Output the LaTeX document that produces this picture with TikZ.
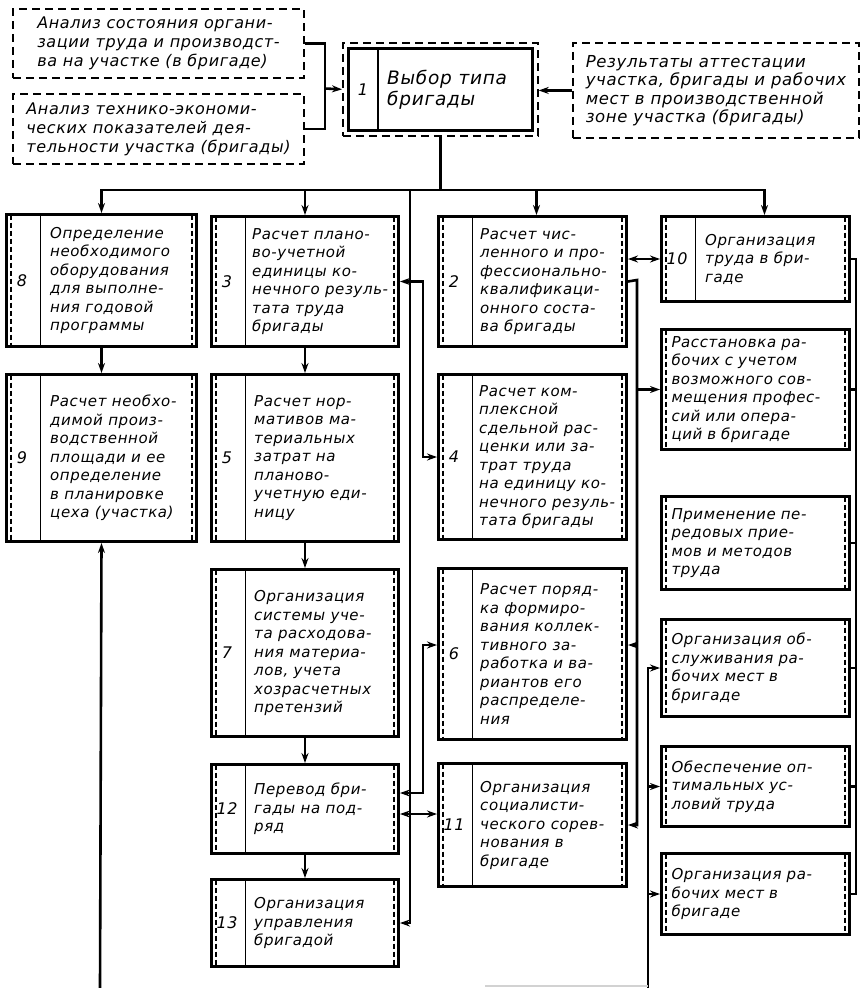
\documentclass[tikz,border=0pt]{standalone}
\usepackage{fontspec}
\setmainfont{DejaVu Sans}[ItalicFont={DejaVu Sans Oblique}, LetterSpace=4.0]
\usetikzlibrary{arrows.meta}

\begin{document}
\begin{tikzpicture}[
    x=1pt, y=-1pt,
    inbox/.style={draw, line width=1.9pt, dash pattern=on 8pt off 5pt, anchor=north west, align=left, inner sep=0pt, font=\itshape\fontsize{16}{19}\selectfont},
    choicebox/.style={draw, line width=1.7pt, dash pattern=on 8pt off 5pt, anchor=north west, inner sep=0pt},
    taskbox/.style={draw, line width=3pt, anchor=north west, inner sep=0pt, align=left, text width=168, font=\itshape\fontsize{15}{18.5}\selectfont,
        path picture={\draw[line width=1.1pt, dash pattern=on 5pt off 3pt]
            ([xshift=4.5pt]path picture bounding box.north west) -- ([xshift=4.5pt]path picture bounding box.south west)
            ([xshift=-4.5pt]path picture bounding box.north east) -- ([xshift=-4.5pt]path picture bounding box.south east);}},
    numbox/.style={taskbox,
        path picture={\draw[line width=1.1pt, dash pattern=on 5pt off 3pt]
            ([xshift=4.5pt]path picture bounding box.north west) -- ([xshift=4.5pt]path picture bounding box.south west)
            ([xshift=-4.5pt]path picture bounding box.north east) -- ([xshift=-4.5pt]path picture bounding box.south east);
            \draw[line width=1.9pt] ([xshift=34pt]path picture bounding box.north west) -- ([xshift=34pt]path picture bounding box.south west);}},
    boxnum/.style={inner sep=0pt, font=\itshape\fontsize{16}{18}\selectfont},
    boxtext/.style={anchor=west, align=left, inner sep=0pt, font=\itshape\fontsize{15}{18.5}\selectfont},
    link/.style={line width=2.6pt},
    arr/.style={link, -{Stealth[length=10pt, width=7pt]}},
    dbl/.style={link, {Stealth[length=10pt, width=7pt]}-{Stealth[length=10pt, width=7pt]}}
]
    \useasboundingbox[fill=white] (0,0) rectangle (861,988);

    % Inputs
    \node[inbox, minimum width=291, minimum height=69] (in1) at (12,8) {Анализ состояния органи-\\зации труда и производст-\\ва на участке (в бригаде)};
    \node[inbox, minimum width=291, minimum height=70] (in2) at (12,93) {Анализ технико-экономи-\\ческих показателей дея-\\тельности участка (бригады)};
    \node[inbox, minimum width=286, minimum height=95, font=\itshape\fontsize{16.5}{18.5}\selectfont] (in3) at (572,42) {Результаты аттестации\\участка, бригады и рабочих\\мест в производственной\\зоне участка (бригады)};

    % Choice of brigade type
    \node[choicebox, minimum width=195, minimum height=93] (b1) at (342,42) {};
    \draw[line width=3pt] ([shift={(6,6)}]b1.north west) rectangle ([shift={(-6,-6)}]b1.south east);
    \draw[line width=1.9pt] ([shift={(36,6)}]b1.north west) -- ([shift={(36,-6)}]b1.south west);
    \node[boxnum] at ([xshift=21]b1.west) {1};
    \node[boxtext, font=\itshape\fontsize{18.5}{21}\selectfont] at ([xshift=45]b1.west) {Выбор типа\\бригады};

    % Column 1
    \node[numbox, minimum width=190, minimum height=132] (b8) at (5,213) {};
    \node[boxnum] at ([xshift=17]b8.west) {8};
    \node[boxtext] at ([xshift=45]b8.west) {Определение\\необходимого\\оборудования\\для выполне-\\ния годовой\\программы};

    \node[numbox, minimum width=190, minimum height=167] (b9) at (5,373) {};
    \node[boxnum] at ([xshift=17]b9.west) {9};
    \node[boxtext] at ([xshift=45]b9.west) {Расчет необхо-\\димой произ-\\водственной\\площади и ее\\определение\\в планировке\\цеха (участка)};

    % Column 2
    \node[numbox, minimum width=187, minimum height=130] (b3) at (210,215) {};
    \node[boxnum] at ([xshift=17]b3.west) {3};
    \node[boxtext] at ([xshift=42]b3.west) {Расчет плано-\\во-учетной\\единицы ко-\\нечного резуль-\\тата труда\\бригады};

    \node[numbox, minimum width=187, minimum height=167] (b5) at (210,373) {};
    \node[boxnum] at ([xshift=17]b5.west) {5};
    \node[boxtext] at ([xshift=44]b5.west) {Расчет нор-\\мативов ма-\\териальных\\затрат на\\планово-\\учетную еди-\\ницу};

    \node[numbox, minimum width=187, minimum height=167] (b7) at (210,568) {};
    \node[boxnum] at ([xshift=17]b7.west) {7};
    \node[boxtext] at ([xshift=44]b7.west) {Организация\\системы уче-\\та расходова-\\ния материа-\\лов, учета\\хозрасчетных\\претензий};

    \node[numbox, minimum width=187, minimum height=89] (b12) at (210,763) {};
    \node[boxnum] at ([xshift=17]b12.west) {12};
    \node[boxtext] at ([xshift=44]b12.west) {Перевод бри-\\гады на под-\\ряд};

    \node[numbox, minimum width=187, minimum height=87] (b13) at (210,878) {};
    \node[boxnum] at ([xshift=17]b13.west) {13};
    \node[boxtext] at ([xshift=44]b13.west) {Организация\\управления\\бригадой};

    % Column 3
    \node[numbox, minimum width=188, minimum height=130] (b2) at (437,215) {};
    \node[boxnum] at ([xshift=17]b2.west) {2};
    \node[boxtext] at ([xshift=43]b2.west) {Расчет чис-\\ленного и про-\\фессионально-\\квалификаци-\\онного соста-\\ва бригады};

    \node[numbox, minimum width=188, minimum height=165] (b4) at (437,373) {};
    \node[boxnum] at ([xshift=17]b4.west) {4};
    \node[boxtext] at ([xshift=42]b4.west) {Расчет ком-\\плексной\\сдельной рас-\\ценки или за-\\трат труда\\на единицу ко-\\нечного резуль-\\тата бригады};

    \node[numbox, minimum width=188, minimum height=171] (b6) at (437,567) {};
    \node[boxnum] at ([xshift=17]b6.west) {6};
    \node[boxtext] at ([xshift=43]b6.west) {Расчет поряд-\\ка формиро-\\вания коллек-\\тивного за-\\работка и ва-\\риантов его\\распределе-\\ния};

    \node[numbox, minimum width=188, minimum height=123] (b11) at (437,762) {};
    \node[boxnum] at ([xshift=17]b11.west) {11};
    \node[boxtext] at ([xshift=43]b11.west) {Организация\\социалисти-\\ческого сорев-\\нования в\\бригаде};

    % Column 4
    \node[numbox, minimum width=188, minimum height=85] (b10) at (660,215) {};
    \node[boxnum] at ([xshift=17]b10.west) {10};
    \node[boxtext] at ([xshift=45]b10.west) {Организация\\труда в бри-\\гаде};

    \node[taskbox, minimum width=188, minimum height=120] (r1) at (660,328) {Расстановка ра-\\бочих с учетом\\возможного сов-\\мещения профес-\\сий или опера-\\ций в бригаде};
    \node[taskbox, minimum width=188, minimum height=93] (r2) at (660,495) {Применение пе-\\редовых прие-\\мов и методов\\труда};
    \node[taskbox, minimum width=188, minimum height=97] (r3) at (660,618) {Организация об-\\служивания ра-\\бочих мест в\\бригаде};
    \node[taskbox, minimum width=188, minimum height=80] (r4) at (660,745) {Обеспечение оп-\\тимальных ус-\\ловий труда};
    \node[taskbox, minimum width=188, minimum height=81] (r5) at (660,852) {Организация ра-\\бочих мест в\\бригаде};

    % Inputs to box 1
    \coordinate (j1) at (325,88.5);
    \draw[link] (in1.east) -| (j1);
    \draw[link] (in2.east) -| (j1);
    \draw[arr] (j1) -- (b1.west);
    \draw[arr] (in3.west) -- (in3.west -| b1.east);

    % Distribution bus
    \coordinate (bus) at (b1.south |- 0,190);
    \draw[link] (b1.south) -- (bus);
    \draw[arr] (bus) -| (b8.north);
    \draw[arr] (bus) -| (b3.north);
    \draw[arr] (bus) -| ([xshift=4]b2.north);
    \draw[arr] (bus) -| ([xshift=9]b10.north);
    \coordinate (l3) at (410,190);
    \draw[arr] (l3) |- (b13.east);

    % Column links
    \draw[arr] (b8) -- (b9);
    \draw[arr] (b3) -- (b5);
    \draw[arr] (b5) -- (b7);
    \draw[arr] (b7) -- (b12);
    \draw[arr] (b12) -- (b13);

    % Cross links
    \draw[dbl] (b3.east) -- ++(23,0) |- (b4.west);
    \draw[dbl] ([yshift=16]b12.east) -- ++(23,0) |- ([yshift=9]b6.west);
    \draw[dbl] ([yshift=-5]b12.east) -- ([yshift=-5]b12.east -| b11.west);
    \draw[dbl] (b2.east |- b10.west) -- (b10.west);

    \coordinate (l1) at (637,280);
    \draw[arr] (b2.east) -- (l1) |- (b11.east);
    \draw[arr] (l1 |- r1.west) -- (r1.west);
    \coordinate (m6) at ([yshift=9]b6.east);
    \draw[arr] (l1 |- m6) -- (m6);

    \coordinate (l2) at (648,988);
    \draw[arr] (l2) |- (r3.west);
    \draw[arr] (l2 |- r4.west) -- (r4.west);
    \draw[arr] (l2 |- r5.west) -- (r5.west);

    \coordinate (l0) at (100,988);
    \draw[arr] (l0) -- (b9.south);
    \draw[gray!35, line width=1.2pt] (485,986) -- (l2 |- 0,986);

    % Right collector
    \coordinate (rb) at (856,0);
    \draw[link] (b10.east) -- (b10.east -| rb) -- (r5.east -| rb) -- (r5.east);
    \draw[link] (r1.east) -- (r1.east -| rb);
    \draw[link] (r2.east) -- (r2.east -| rb);
    \draw[link] (r3.east) -- (r3.east -| rb);
    \draw[link] (r4.east) -- (r4.east -| rb);
\end{tikzpicture}
\end{document}
